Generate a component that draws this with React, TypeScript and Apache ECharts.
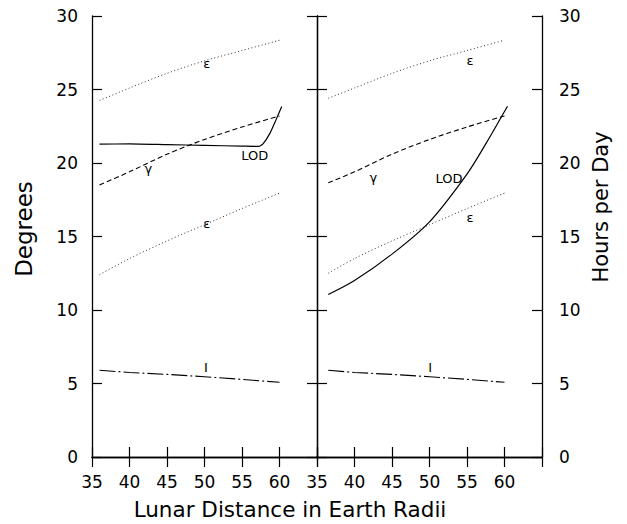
import React, { useEffect, useRef } from "react";
import * as echarts from "echarts";

// ---- data ----
const xTicks = [35, 40, 45, 50, 55, 60, 65];
const yTicks = [0, 5, 10, 15, 20, 25, 30];

// left panel
const xLeft = [36, 40, 45, 50, 55, 60];
const epsHighLeft = [24.25, 25.1, 26.1, 26.95, 27.65, 28.35];
const epsLowLeft = [12.4, 13.5, 14.7, 15.8, 16.9, 17.95];
const gammaLeft = [18.5, 19.4, 20.6, 21.6, 22.45, 23.2];
const incLeft = [5.9, 5.75, 5.62, 5.46, 5.28, 5.08];
const xLodLeft = [36, 40, 45, 50, 55, 57.2, 57.8, 58.7, 59.5, 60.3];
const lodLeft = [21.28, 21.3, 21.25, 21.2, 21.15, 21.13, 21.3, 22.0, 22.9, 23.85];

// right panel
const xRight = [36.5, 40, 45, 50, 55, 60];
const epsHighRight = [24.4, 25.1, 26.1, 26.95, 27.65, 28.35];
const epsLowRight = [12.5, 13.5, 14.7, 15.8, 16.9, 17.95];
const gammaRight = [18.65, 19.4, 20.6, 21.6, 22.45, 23.2];
const incRight = [5.9, 5.75, 5.62, 5.46, 5.28, 5.08];
const xLodRight = [36.5, 40, 45, 50, 55, 57.5, 60, 60.4];
const lodRight = [11.05, 12.0, 13.8, 16.0, 19.25, 21.3, 23.5, 23.85];

// curve labels [x, y, text]
const labelsLeft: [number, number, string][] = [
  [50.3, 26.8, "ε"],
  [50.3, 15.9, "ε"],
  [42.5, 19.6, "γ"],
  [56.7, 20.5, "LOD"],
  [50.2, 6.1, "I"],
];
const labelsRight: [number, number, string][] = [
  [55.4, 26.95, "ε"],
  [55.4, 16.3, "ε"],
  [42.5, 19.0, "γ"],
  [52.6, 18.95, "LOD"],
  [50.1, 6.1, "I"],
];

const FONT = "DejaVu Sans";

function pairs(xs: number[], ys: number[]) {
  return xs.map((x, i) => [x, ys[i]]);
}

export default function App() {
  const ref = useRef<HTMLDivElement>(null);
  useEffect(() => {
    if (!ref.current) return;
    const chart = echarts.init(ref.current, undefined, { renderer: "svg" });

    const axisLine = { show: true, lineStyle: { color: "#000", width: 1.3 } };
    const tick = { show: true, inside: true, length: 10, lineStyle: { color: "#000", width: 1.2 } };

    const xBottom = (gridIndex: number) => ({
      type: "value",
      gridIndex,
      position: "bottom",
      min: 35,
      max: 65,
      interval: 5,
      axisLine,
      axisTick: tick,
      splitLine: { show: false },
      axisLabel: {
        show: true,
        margin: 16,
        fontFamily: FONT,
        fontSize: 17,
        color: "#000",
        formatter: (v: number) => (v === 65 ? "" : String(v)),
      },
    });
    const xTop = (gridIndex: number) => ({
      type: "value",
      gridIndex,
      position: "top",
      min: 35,
      max: 65,
      interval: 5,
      axisLine,
      axisTick: tick,
      splitLine: { show: false },
      axisLabel: { show: false },
    });
    const yAx = (gridIndex: number, position: string, showLabel: boolean) => ({
      type: "value",
      gridIndex,
      position,
      min: 0,
      max: 30,
      interval: 5,
      axisLine,
      axisTick: tick,
      splitLine: { show: false },
      axisLabel: {
        show: showLabel,
        margin: position === "left" ? 14 : 17,
        fontFamily: FONT,
        fontSize: 17,
        color: "#000",
      },
    });

    const dotted = { color: "#333", width: 1, type: [1, 2.5] };
    const dashed = { color: "#000", width: 1.1, type: [5, 3] };
    const dashDot = { color: "#000", width: 1.1, type: [16, 3, 2, 3] };
    const solid = { color: "#000", width: 1.2, type: "solid" };

    const line = (data: number[][], xi: number, yi: number, ls: any, smooth: any = false) => ({
      type: "line",
      xAxisIndex: xi,
      yAxisIndex: yi,
      data,
      showSymbol: false,
      symbol: "none",
      smooth,
      lineStyle: ls,
      itemStyle: { color: "#000" },
      silent: true,
    });

    const titles = [
      {
        type: "text",
        x: 24,
        y: 229,
        rotation: Math.PI / 2,
        style: { text: "Degrees", fontFamily: FONT, fontSize: 23, fill: "#000", align: "center", verticalAlign: "middle" },
      },
      {
        type: "text",
        x: 601,
        y: 207,
        rotation: Math.PI / 2,
        style: { text: "Hours per Day", fontFamily: FONT, fontSize: 21, fill: "#000", align: "center", verticalAlign: "middle" },
      },
      {
        type: "text",
        x: 290,
        y: 509,
        style: {
          text: "Lunar Distance in Earth Radii",
          fontFamily: FONT,
          fontSize: 21.5,
          fill: "#000",
          align: "center",
          verticalAlign: "middle",
        },
      },
    ];

    chart.setOption({
      animation: false,
      backgroundColor: "#fff",
      grid: [
        { left: 92, top: 16, width: 225, height: 441, outerBoundsMode: "none", containLabel: false },
        { left: 317, top: 16, width: 225, height: 441, outerBoundsMode: "none", containLabel: false },
      ],
      xAxis: [xBottom(0), xTop(0), xBottom(1), xTop(1)],
      yAxis: [yAx(0, "left", true), yAx(0, "right", false), yAx(1, "left", false), yAx(1, "right", true)],
      series: [
        line(pairs(xLeft, epsHighLeft), 0, 0, dotted, 0.3),
        line(pairs(xLeft, epsLowLeft), 0, 0, dotted, 0.3),
        line(pairs(xLeft, gammaLeft), 0, 0, dashed, 0.3),
        line(pairs(xLeft, incLeft), 0, 0, dashDot),
        line(pairs(xLodLeft, lodLeft), 0, 1, solid, 0.2),
        line(pairs(xRight, epsHighRight), 2, 2, dotted, 0.3),
        line(pairs(xRight, epsLowRight), 2, 2, dotted, 0.3),
        line(pairs(xRight, gammaRight), 2, 2, dashed, 0.3),
        line(pairs(xRight, incRight), 2, 2, dashDot),
        line(pairs(xLodRight, lodRight), 2, 3, solid, 0.3),
      ],
      graphic: titles,
    });

    const toText = (l: [number, number, string], xi: number, yi: number) => {
      const p = chart.convertToPixel({ xAxisIndex: xi, yAxisIndex: yi } as any, [l[0], l[1]]) as number[];
      return {
        type: "text",
        x: p[0],
        y: p[1],
        silent: true,
        style: {
          text: l[2],
          fontFamily: FONT,
          fontSize: 13,
          fill: "#000",
          align: "center",
          verticalAlign: "middle",
        },
      };
    };
    chart.setOption({
      graphic: [
        ...titles,
        ...labelsLeft.map((l) => toText(l, 0, 0)),
        ...labelsRight.map((l) => toText(l, 2, 2)),
      ],
    });

    return () => chart.dispose();
  }, []);
  return (
    <div
      ref={ref}
      style={{ position: "fixed", left: 0, top: 0, width: 627, height: 524, background: "#fff" }}
    />
  );
}
